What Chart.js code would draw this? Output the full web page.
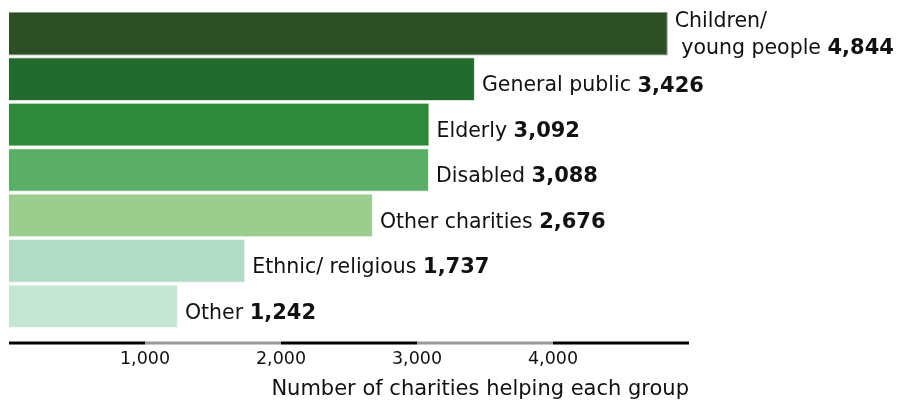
<!DOCTYPE html>
<html>
<head>
<meta charset="utf-8">
<script src="https://cdn.jsdelivr.net/npm/chart.js@4.4.0/dist/chart.umd.min.js"></script>
<style>
  html, body { margin: 0; padding: 0; background: #fff; }
  #wrap { width: 899px; height: 400px; position: relative; }
</style>
</head>
<body>
<div id="wrap"><canvas id="chart"></canvas></div>
<script>
/* Charities by beneficiary group - horizontal bars */

const groups = [['Children/', ' young people'], 'General public', 'Elderly', 'Disabled', 'Other charities', 'Ethnic/ religious', 'Other'];
const counts = [4844, 3426, 3092, 3088, 2676, 1737, 1242];
const barColors = ['#2e4f25', '#236a2e', '#2e8a3a', '#5aae66', '#9bcd8f', '#b2dbc6', '#c6e6d4'];
const edgeColors = ['#8a9a86', '#d9e6db', '#d6e8d9', '#e2f0e4', '#eef7eb', '#eef7f2', '#f3faf6'];
const tickValues = [1000, 2000, 3000, 4000];
const axisTitle = 'Number of charities helping each group';

const FONT = '"DejaVu Sans", sans-serif';

// value labels to the right of each bar
const barLabels = {
  id: 'barLabels',
  afterDatasetsDraw(chart) {
    const ctx = chart.ctx;
    const meta = chart.getDatasetMeta(0);
    ctx.save();
    ctx.fillStyle = '#111';
    ctx.textBaseline = 'middle';
    meta.data.forEach((bar, i) => {
      const x = bar.x + 7;
      const y = bar.y + 7;
      const val = counts[i].toLocaleString('en-GB');
      const lab = groups[i];
      ctx.font = '20.5px ' + FONT;
      if (Array.isArray(lab)) {
        ctx.fillText(lab[0], x, y - 19);
        const w = ctx.measureText(lab[1] + ' ').width;
        ctx.fillText(lab[1] + ' ', x, y + 8);
        ctx.font = 'bold 21px ' + FONT;
        ctx.fillText(val, x + w, y + 8);
      } else {
        const w = ctx.measureText(lab + ' ').width;
        ctx.fillText(lab + ' ', x, y);
        ctx.font = 'bold 21px ' + FONT;
        ctx.fillText(val, x + w, y);
      }
    });
    ctx.restore();
  }
};

// striped axis line below the bars + axis title
const axisLine = {
  id: 'axisLine',
  afterDraw(chart) {
    const ctx = chart.ctx;
    const xs = chart.scales.x;
    const y = chart.chartArea.bottom + 14;
    const stops = [0, 1000, 2000, 3000, 4000, 5000];
    ctx.save();
    ctx.lineWidth = 3;
    for (let i = 0; i < stops.length - 1; i++) {
      ctx.strokeStyle = i % 2 ? '#999' : '#000';
      ctx.beginPath();
      ctx.moveTo(xs.getPixelForValue(stops[i]), y);
      ctx.lineTo(xs.getPixelForValue(stops[i + 1]), y);
      ctx.stroke();
    }
    ctx.fillStyle = '#111';
    ctx.font = '21px ' + FONT;
    ctx.textAlign = 'right';
    ctx.textBaseline = 'middle';
    ctx.fillText(axisTitle, xs.right, y + 47);
    ctx.restore();
  }
};

new Chart(document.getElementById('chart'), {
  type: 'bar',
  data: {
    labels: groups,
    datasets: [{
      data: counts,
      backgroundColor: barColors,
      borderColor: edgeColors,
      borderWidth: 1,
      barPercentage: 0.96,
      categoryPercentage: 1
    }]
  },
  options: {
    indexAxis: 'y',
    responsive: true,
    maintainAspectRatio: false,
    animation: false,
    layout: { padding: { left: 9, right: 210, top: 11, bottom: 0 } },
    plugins: { legend: { display: false }, tooltip: { enabled: false } },
    scales: {
      x: {
        min: 0,
        max: 5000,
        afterBuildTicks: s => { s.ticks = tickValues.map(v => ({ value: v })); },
        grid: { display: false, drawTicks: false },
        border: { display: false },
        ticks: {
          padding: 20,
          color: '#111',
          font: { family: FONT, size: 17.5 },
          callback: v => v.toLocaleString('en-GB')
        },
        afterFit: s => { s.height = 71; }
      },
      y: { display: false }
    }
  },
  plugins: [barLabels, axisLine]
});
</script>
</body>
</html>
